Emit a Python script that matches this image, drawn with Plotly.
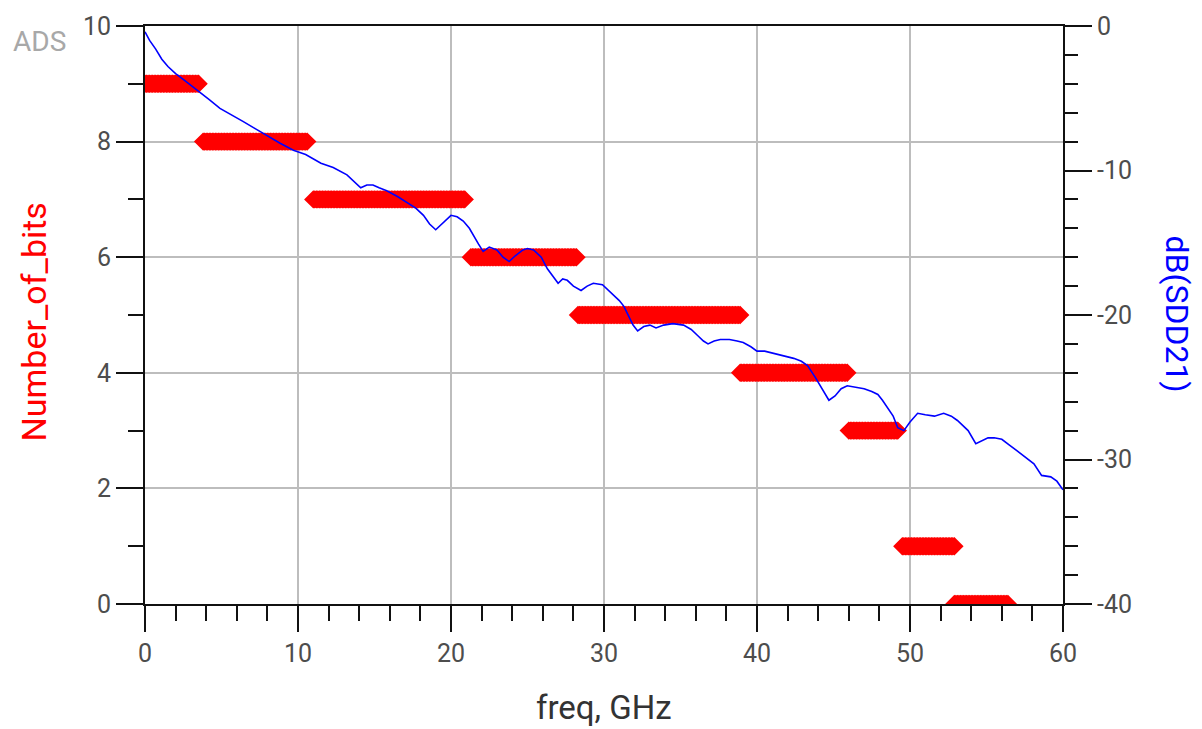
import numpy as np
import plotly.graph_objects as go

# ---- dB(SDD21) trace (right axis) ----
freq_ghz = [0, 0.3, 0.7, 1.1, 1.5, 2.0, 2.5, 3.0, 3.6, 4.2, 4.9, 5.6, 6.4, 7.2, 8.0, 8.8, 9.7, 10.5,
            11.5, 12.3, 13.2, 13.6, 14.1, 14.5, 14.9, 15.3, 15.8, 16.5, 17.1, 17.7, 18.2, 18.6, 19.0,
            19.5, 20.0, 20.4, 20.8, 21.2, 21.5, 21.8, 22.1, 22.5, 23.0, 23.4, 23.8, 24.2, 24.7, 25.0,
            25.4, 25.9, 26.3, 26.7, 27.0, 27.3, 27.6, 28.0, 28.5, 28.9, 29.3, 29.9, 30.3, 30.6, 31.0,
            31.3, 31.6, 31.9, 32.2, 32.6, 33.0, 33.4, 33.9, 34.5, 35.2, 35.7, 36.1, 36.5, 36.8, 37.2,
            37.6, 38.2, 38.7, 39.1, 39.6, 40.0, 40.5, 40.9, 41.5, 42.0, 42.4, 42.9, 43.3, 43.8, 44.2,
            44.7, 45.1, 45.5, 45.9, 46.5, 47.0, 47.5, 47.9, 48.2, 48.5, 48.9, 49.2, 49.6, 50.0, 50.5,
            51.0, 51.6, 52.2, 52.7, 53.1, 53.5, 53.8, 54.3, 54.7, 55.1, 55.5, 56.0, 56.5, 57.0, 57.5,
            58.1, 58.6, 59.2, 59.6, 60.0]
sdd21_db = [-0.4, -1.0, -1.6, -2.3, -2.8, -3.3, -3.7, -4.1, -4.6, -5.1, -5.7, -6.1, -6.6, -7.1, -7.6,
            -8.1, -8.6, -8.9, -9.5, -9.8, -10.3, -10.7, -11.2, -11.0, -11.0, -11.2, -11.4, -11.8,
            -12.2, -12.6, -13.1, -13.7, -14.1, -13.6, -13.1, -13.2, -13.5, -14.0, -14.6, -15.1,
            -15.6, -15.3, -15.5, -16.0, -16.3, -15.9, -15.5, -15.4, -15.5, -16.0, -16.8, -17.4,
            -17.8, -17.5, -17.6, -18.0, -18.3, -18.0, -17.8, -17.9, -18.3, -18.6, -19.0, -19.4,
            -20.1, -20.7, -21.1, -20.8, -20.7, -20.9, -20.7, -20.6, -20.7, -21.0, -21.4, -21.8,
            -22.0, -21.8, -21.7, -21.7, -21.8, -21.9, -22.2, -22.5, -22.5, -22.6, -22.8, -22.9,
            -23.0, -23.2, -23.5, -24.3, -25.0, -25.9, -25.6, -25.1, -24.9, -25.0, -25.1, -25.3,
            -25.5, -25.9, -26.4, -27.0, -27.8, -28.0, -27.4, -26.8, -26.9, -27.0, -26.8, -27.0,
            -27.3, -27.7, -28.0, -28.9, -28.7, -28.5, -28.5, -28.6, -29.0, -29.4, -29.8, -30.3,
            -31.1, -31.2, -31.5, -32.1]

# ---- Number_of_bits (left axis): constant levels over frequency bands ----
bits_levels = [9, 8, 7, 6, 5, 4, 3, 1, 0]
band_start_ghz = [0.0, 3.8, 11.0, 21.3, 28.3, 38.9, 46.0, 49.5, 52.9]
band_end_ghz = [3.5, 10.6, 20.9, 28.2, 38.9, 45.9, 49.2, 52.9, 56.4]
sample_step_ghz = 0.1

bits_f, bits_v = [], []
for lvl, f0, f1 in zip(bits_levels, band_start_ghz, band_end_ghz):
    fs = np.arange(f0, f1 + 1e-9, sample_step_ghz)
    bits_f.extend(fs.tolist())
    bits_v.extend([lvl] * len(fs))

x_ticks = [0, 10, 20, 30, 40, 50, 60]
left_ticks = [0, 2, 4, 6, 8, 10]
right_ticks = [-40, -30, -20, -10, 0]
right_tick_text = ["-40", "-30", "-20", "-10", "0"]

FONT = "Roboto"
TICK_FONT = dict(family=FONT, size=25, color="#4d4d4d")

fig = go.Figure()
fig.add_trace(go.Scatter(
    x=bits_f, y=bits_v, mode="markers", yaxis="y",
    marker=dict(symbol="diamond-open", size=12, color="#ff0000", line=dict(width=2, color="#ff0000")),
    showlegend=False, hoverinfo="skip"))
fig.add_trace(go.Scatter(
    x=freq_ghz, y=sdd21_db, mode="lines", yaxis="y2",
    line=dict(color="#0000ff", width=1.6), showlegend=False))

fig.update_layout(
    width=1202, height=729,
    margin=dict(l=145, r=139, t=23, b=125),
    paper_bgcolor="white", plot_bgcolor="white",
    xaxis=dict(
        range=[0, 60], tickvals=x_ticks, ticks="outside", ticklen=26, tickwidth=2, tickcolor="#111",
        showline=True, linecolor="#111", linewidth=2, mirror=True,
        showgrid=True, gridcolor="#bdbdbd", gridwidth=1.5, zeroline=False,
        tickfont=TICK_FONT,
        minor=dict(dtick=2, ticks="outside", ticklen=15, tickwidth=2, tickcolor="#111", showgrid=False),
    ),
    yaxis=dict(
        range=[0, 10], tickvals=left_ticks, ticks="outside", ticklen=27, tickwidth=2, tickcolor="#111",
        showline=True, linecolor="#111", linewidth=2,
        showgrid=True, gridcolor="#bdbdbd", gridwidth=1.5, zeroline=False,
        tickfont=TICK_FONT,
        minor=dict(dtick=1, ticks="outside", ticklen=15, tickwidth=2, tickcolor="#111", showgrid=False),
    ),
    yaxis2=dict(
        range=[-40, 0], tickvals=right_ticks, ticktext=right_tick_text, overlaying="y", side="right",
        ticks="outside", ticklen=27, tickwidth=2, tickcolor="#111",
        showline=True, linecolor="#111", linewidth=2,
        showgrid=False, zeroline=False, tickfont=TICK_FONT,
        minor=dict(dtick=2, ticks="outside", ticklen=13, tickwidth=2, tickcolor="#111", showgrid=False),
    ),
    annotations=[
        dict(text="Number_of_bits", xref="paper", yref="paper", x=-0.1209, y=0.4871,
             xanchor="center", yanchor="middle", textangle=-90, showarrow=False,
             font=dict(family=FONT, size=34, color="#ff0000")),
        dict(text="dB(SDD21)", xref="paper", yref="paper", x=1.1231, y=0.5026,
             xanchor="center", yanchor="middle", textangle=90, showarrow=False,
             font=dict(family=FONT, size=32, color="#0000ff")),
        dict(text="freq, GHz", xref="paper", yref="paper", x=0.5, y=-0.179,
             xanchor="center", yanchor="middle", showarrow=False,
             font=dict(family=FONT, size=33, color="#333333")),
        dict(text="ADS", xref="paper", yref="paper", x=-0.1144, y=0.9725,
             xanchor="center", yanchor="middle", showarrow=False,
             font=dict(family=FONT, size=28, color="#a8a8a8")),
    ],
)

fig.write_html("out.html")
